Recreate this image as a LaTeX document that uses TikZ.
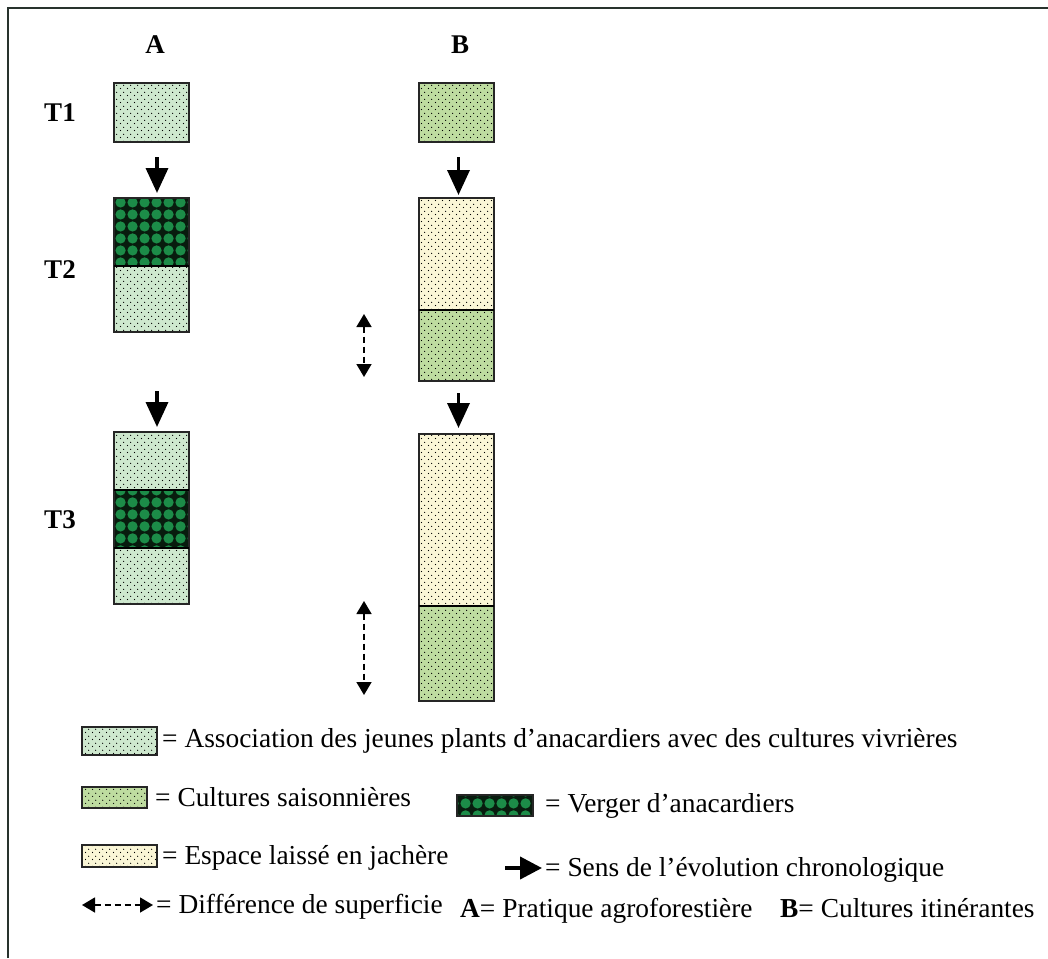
\documentclass[tikz,border=0pt]{standalone}
\usepackage{fontspec}
\setmainfont{Liberation Serif}
\usetikzlibrary{arrows.meta,patterns.meta}
\definecolor{assocfill}{RGB}{206,232,206}
\definecolor{cultfill}{RGB}{190,220,160}
\definecolor{jachfill}{RGB}{250,246,214}
\definecolor{vgreen}{RGB}{28,140,72}
\definecolor{vdark}{RGB}{8,28,14}
\definecolor{framecol}{RGB}{40,50,45}
\tikzdeclarepattern{
  name=spots, type=uncolored,
  bottom left={(0pt,0pt)}, top right={(7pt,7pt)}, tile size={(7pt,7pt)},
  code={\fill (1.75pt,1.75pt) circle (0.7pt); \fill (5.25pt,5.25pt) circle (0.7pt);}
}
\tikzdeclarepattern{
  name=blobs, type=uncolored,
  bottom left={(0pt,0pt)}, top right={(11.5pt,11.5pt)}, tile size={(11.5pt,11.5pt)},
  code={\fill (5.75pt,5.75pt) circle (5.3pt);}
}
\tikzset{
  seg/.style={draw=black!85, line width=1.3pt, inner sep=0pt, outer sep=0pt, minimum width=75pt},
  assoc/.style={seg, preaction={fill=assocfill}, pattern=spots, pattern color=black},
  cult/.style={seg, preaction={fill=cultfill}, pattern=spots, pattern color=black},
  jach/.style={seg, preaction={fill=jachfill}, pattern=spots, pattern color=black},
  verger/.style={seg, preaction={fill=vdark}, pattern=blobs, pattern color=vgreen},
  divider/.style={line width=2.4pt, black},
  chrono/.style={line width=3.5pt, black, -{Triangle[width=22pt,length=25pt]}},
  diff/.style={line width=1.6pt, black, dash pattern=on 6pt off 4pt, {Triangle[width=15pt,length=13pt]}-{Triangle[width=15pt,length=13pt]}},
  lbl/.style={font=\fontsize{27.4}{32}\selectfont, inner sep=0pt, anchor=base west},
  head/.style={font=\fontsize{27}{32}\selectfont\bfseries, inner sep=0pt}
}
\begin{document}
\begin{tikzpicture}[x=1pt,y=-1pt]
\useasboundingbox (0,0) rectangle (1048,958);
\fill[white] (0,0) rectangle (1048,958);
\draw[line width=1.5pt, framecol] (8,958) -- (8,8) -- (1048,8);
% headings
\node[head] (hA) at (155,45) {A};
\node[head] (hB) at (460,45) {B};
\node[head] (t1) at (60,113) {T1};
\node[head] (t2) at (60,270) {T2};
\node[head] (t3) at (60,520) {T3};
% column A
\node[assoc, minimum height=59pt] (a1) at (151.5,112.5) {};
\node[verger, minimum height=68pt] (a2v) at (151.5,232) {};
\node[assoc, minimum height=66pt] (a2a) at (151.5,299) {};
\draw[divider] (a2v.south west) -- (a2v.south east);
\node[assoc, minimum height=58pt] (a3a) at (151.5,461) {};
\node[verger, minimum height=58pt] (a3v) at (151.5,519) {};
\node[assoc, minimum height=56pt] (a3b) at (151.5,576) {};
\draw[divider] (a3v.north west) -- (a3v.north east);
\draw[divider] (a3v.south west) -- (a3v.south east);
% column B
\node[cult, minimum height=59pt] (b1) at (456.5,112.5) {};
\node[jach, minimum height=112pt] (b2j) at (456.5,254) {};
\node[cult, minimum height=71pt] (b2c) at (456.5,345.5) {};
\draw[line width=1.6pt] (b2j.south west) -- (b2j.south east);
\node[jach, minimum height=172pt] (b3j) at (456.5,520) {};
\node[cult, minimum height=95pt] (b3c) at (456.5,653.5) {};
\draw[divider] (b3j.south west) -- (b3j.south east);
% chronological arrows
\draw[chrono] ([xshift=5.5pt,yshift=-15pt]a1.south) -- ([xshift=5.5pt,yshift=5pt]a2v.north);
\draw[chrono] ([xshift=5.5pt,yshift=-59pt]a2a.south) -- ([xshift=5.5pt,yshift=5pt]a3a.north);
\draw[chrono] ([xshift=2pt,yshift=-15pt]b1.south) -- ([xshift=2pt,yshift=3pt]b2j.north);
\draw[chrono] ([xshift=2pt,yshift=-12pt]b2c.south) -- ([xshift=2pt,yshift=6pt]b3j.north);
% area difference arrows
\coordinate (d2t) at (364,314);
\coordinate (d2b) at (364,377);
\coordinate (d3t) at (364,601);
\coordinate (d3b) at (364,695);
\draw[diff] (d2t) -- (d2b);
\draw[diff] (d3t) -- (d3b);
% legend
\node[assoc, minimum width=75pt, minimum height=28pt] (s1) at (119.5,741) {};
\node[lbl] (l1) at (162,747) {= Association des jeunes plants d’anacardiers avec des cultures vivrières};
\node[cult, minimum width=65pt, minimum height=21pt] (s2) at (114.5,797.5) {};
\node[lbl] (l2) at (155,806) {= Cultures saisonnières};
\node[verger, minimum width=76pt, minimum height=21pt] (s4) at (495,805.5) {};
\node[lbl] (l5) at (545,812) {= Verger d’anacardiers};
\node[jach, minimum width=75pt, minimum height=22pt] (s3) at (119.5,856) {};
\node[lbl] (l3) at (162,864) {= Espace laissé en jachère};
\coordinate (sa1) at (505,868);
\coordinate (sa2) at (542,868);
\draw[line width=4pt, -{Triangle[width=22pt,length=22pt]}] (sa1) -- (sa2);
\node[lbl] (l6) at (545,876) {= Sens de l’évolution chronologique};
\coordinate (da1) at (82,905);
\coordinate (da2) at (153,905);
\draw[diff] (da1) -- (da2);
\node[lbl] (l4) at (156,913) {= Différence de superficie};
\node[lbl] (l7) at (460,917) {\textbf{A}= Pratique agroforestière};
\node[lbl] (l8) at (780,917) {\textbf{B}= Cultures itinérantes};
\end{tikzpicture}
\end{document}
